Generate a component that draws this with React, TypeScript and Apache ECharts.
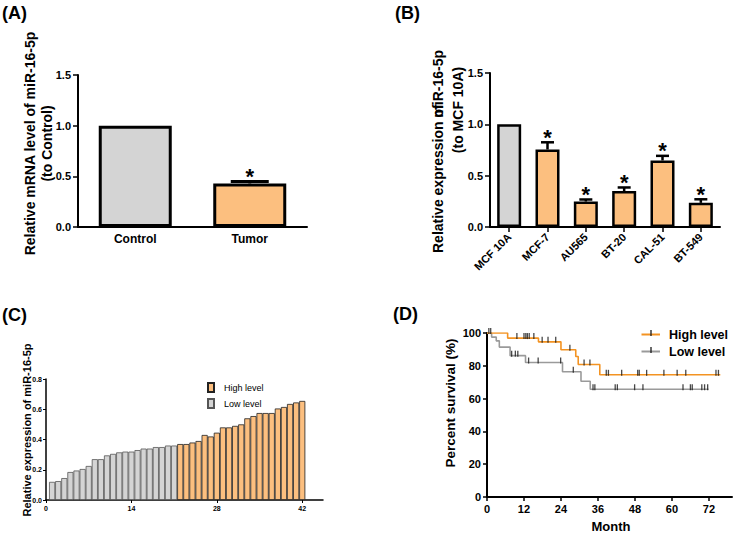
import React, { useEffect, useRef } from "react";
import * as echarts from "echarts";

// ---------- Data ----------
const panelACategories = ["Control", "Tumor"];
const panelAMeans = [1.0, 0.43];
const panelAErrors = [0, 0.02];
const panelAStars = [false, true];

const panelBCategories = ["MCF 10A", "MCF-7", "AU565", "BT-20", "CAL-51", "BT-549"];
const panelBMeans = [1.0, 0.755, 0.248, 0.35, 0.648, 0.235];
const panelBErrors = [0, 0.07, 0.02, 0.035, 0.045, 0.035];
const panelBStars = [false, true, true, true, true, true];

const panelCLowValues = [
  0.12, 0.125, 0.145, 0.185, 0.195, 0.205, 0.225, 0.27, 0.27, 0.295, 0.305,
  0.315, 0.32, 0.32, 0.33, 0.34, 0.34, 0.35, 0.35, 0.36, 0.36,
];
const panelCHighValues = [
  0.37, 0.37, 0.38, 0.39, 0.43, 0.42, 0.445, 0.48, 0.48, 0.49, 0.5, 0.54,
  0.555, 0.575, 0.575, 0.575, 0.605, 0.615, 0.635, 0.645, 0.655,
];
const panelCTicks = [0, 14, 28, 42];

const survivalHighMonths = [0, 6.7, 16.7, 24, 28.8, 29.6, 36.6, 75.7];
const survivalHighPercent = [100, 96.9, 94.6, 89.8, 85.7, 80.8, 74.5, 74.5];
const survivalLowMonths = [0, 1.5, 3, 4, 7.5, 12.5, 24.5, 30.5, 33.5, 71.9];
const survivalLowPercent = [100, 97.5, 95.2, 91.4, 86.2, 82.0, 76.4, 70.6, 65.7, 65.7];
const censorHighMonths = [
  9.7, 12.0, 12.6, 13.1, 13.7, 15.2, 17.9, 19.8, 22.3, 26.9, 31.5, 33.4, 38.7,
  39.4, 43.7, 48.9, 49.4, 51.8, 57.4, 61.7, 64.5, 74.3, 75.1,
];
const censorLowMonths = [
  0.6, 1.2, 8.0, 9.2, 10.0, 13.5, 16.6, 23.9, 28.0, 34.4, 35.0, 41.6, 42.3,
  47.9, 50.6, 63.6, 66.0, 66.6, 69.7, 70.6, 71.6,
];
const monthTicks = [0, 12, 24, 36, 48, 60, 72];

// ---------- Styles ----------
const FONT = 'Arial, "Liberation Sans", Helvetica, sans-serif';
const GRAY = "#d4d4d4";
const ORANGE = "#fcbf7f";
const LINE_ORANGE = "#f39322";
const LINE_GRAY = "#9a9a9a";

function levelAt(months: number[], pct: number[], t: number) {
  let v = pct[0];
  for (let i = 0; i < months.length; i++) {
    if (months[i] <= t) v = pct[i];
  }
  return v;
}

function errorSeries(
  xAxisIndex: number,
  yAxisIndex: number,
  means: number[],
  errs: number[],
  stars: boolean[],
  capW: number,
  lw: number
) {
  return {
    type: "custom",
    xAxisIndex,
    yAxisIndex,
    clip: false,
    z: 10,
    data: means.map((m, i) => [i, m, m + errs[i], stars[i] ? 1 : 0]),
    renderItem: (params: any, api: any) => {
      const idx = api.value(0);
      const base = api.coord([idx, api.value(1)]);
      const top = api.coord([idx, api.value(2)]);
      const children: any[] = [];
      if (api.value(2) > api.value(1)) {
        children.push({
          type: "line",
          shape: { x1: top[0], y1: base[1], x2: top[0], y2: top[1] },
          style: { stroke: "#000", lineWidth: lw },
        });
        children.push({
          type: "line",
          shape: { x1: top[0] - capW / 2, y1: top[1], x2: top[0] + capW / 2, y2: top[1] },
          style: { stroke: "#000", lineWidth: lw },
        });
      }
      if (api.value(3)) {
        children.push({
          type: "text",
          x: top[0],
          y: top[1] - 5,
          style: {
            text: "*",
            fill: "#000",
            fontSize: 22,
            fontWeight: "bold",
            fontFamily: FONT,
            align: "center",
            verticalAlign: "middle",
          },
        });
      }
      return { type: "group", children };
    },
  };
}

function txt(
  text: string,
  x: number,
  y: number,
  size: number,
  opts: any = {}
) {
  return {
    type: "text",
    x,
    y,
    rotation: opts.rotation || 0,
    style: {
      text,
      fill: "#000",
      fontSize: size,
      fontWeight: opts.weight || "bold",
      fontFamily: FONT,
      align: opts.align || "center",
      verticalAlign: opts.valign || "middle",
    },
  };
}

const axisLine = (w: number) => ({ show: true, lineStyle: { color: "#000", width: w } });
const labelStyle = (size: number, extra: any = {}) => ({
  color: "#000",
  fontSize: size,
  fontWeight: "bold",
  fontFamily: FONT,
  ...extra,
});

export default function App() {
  const ref = useRef<HTMLDivElement>(null);

  useEffect(() => {
    if (!ref.current) return;
    const chart = echarts.init(ref.current, null, { renderer: "svg" });

    const R = Math.PI / 2;
    const option: any = {
      animation: false,
      backgroundColor: "#ffffff",
      grid: [
        { left: 78, top: 75, width: 229, height: 152, outerBoundsMode: "none" },
        { left: 490, top: 73, width: 230, height: 154, outerBoundsMode: "none" },
        { left: 46, top: 379, width: 277, height: 121, outerBoundsMode: "none" },
        { left: 487, top: 333, width: 245, height: 164, outerBoundsMode: "none" },
      ],
      xAxis: [
        {
          gridIndex: 0,
          type: "category",
          data: panelACategories,
          axisLine: axisLine(2),
          axisTick: { show: false },
          axisLabel: labelStyle(12, { margin: 6 }),
        },
        {
          gridIndex: 1,
          type: "category",
          data: panelBCategories,
          axisLine: axisLine(2),
          axisTick: { show: true, alignWithLabel: true, length: 5, lineStyle: { color: "#000", width: 1.5 } },
          axisLabel: labelStyle(11, { rotate: 45, margin: 8, interval: 0 }),
        },
        {
          gridIndex: 2,
          type: "value",
          min: 0,
          max: 45.4,
          axisLine: axisLine(1.5),
          splitLine: { show: false },
          axisTick: { show: true, customValues: panelCTicks, length: 3, lineStyle: { color: "#000", width: 1 } },
          axisLabel: labelStyle(7, { customValues: panelCTicks, margin: 5 }),
        },
        {
          gridIndex: 3,
          type: "value",
          min: 0,
          max: 79.5,
          axisLine: axisLine(2),
          splitLine: { show: false },
          axisTick: { show: true, customValues: monthTicks, length: 4, lineStyle: { color: "#000", width: 1.5 } },
          axisLabel: labelStyle(11, { customValues: monthTicks, margin: 6 }),
        },
      ],
      yAxis: [
        {
          gridIndex: 0,
          type: "value",
          min: 0,
          max: 1.5,
          interval: 0.5,
          axisLine: axisLine(2),
          splitLine: { show: false },
          axisTick: { show: true, length: 5, lineStyle: { color: "#000", width: 1.5 } },
          axisLabel: labelStyle(11, { margin: 7, formatter: (v: number) => v.toFixed(1) }),
        },
        {
          gridIndex: 1,
          type: "value",
          min: 0,
          max: 1.5,
          interval: 0.5,
          axisLine: axisLine(2),
          splitLine: { show: false },
          axisTick: { show: true, length: 5, lineStyle: { color: "#000", width: 1.5 } },
          axisLabel: labelStyle(11, { margin: 7, formatter: (v: number) => v.toFixed(1) }),
        },
        {
          gridIndex: 2,
          type: "value",
          min: 0,
          max: 0.8,
          interval: 0.2,
          axisLine: axisLine(1.5),
          splitLine: { show: false },
          axisTick: { show: true, length: 3, lineStyle: { color: "#000", width: 1 } },
          axisLabel: labelStyle(7, { margin: 4, formatter: (v: number) => v.toFixed(1) }),
        },
        {
          gridIndex: 3,
          type: "value",
          min: 0,
          max: 100,
          interval: 20,
          axisLine: axisLine(2),
          splitLine: { show: false },
          axisTick: { show: true, length: 4, lineStyle: { color: "#000", width: 1.5 } },
          axisLabel: labelStyle(11, { margin: 6 }),
        },
      ],
      legend: {
        data: ["High level", "Low level"],
        orient: "vertical",
        left: 207,
        top: 382,
        padding: 0,
        itemWidth: 6,
        itemHeight: 9,
        itemGap: 5,
        icon: "rect",
        selectedMode: false,
        textStyle: { fontSize: 9, fontFamily: FONT, color: "#000", padding: [0, 0, 0, 5] },
      },
      series: [
        {
          type: "bar",
          xAxisIndex: 0,
          yAxisIndex: 0,
          barWidth: 73,
          data: panelAMeans.map((v, i) => ({
            value: v,
            itemStyle: { color: i === 0 ? GRAY : ORANGE },
          })),
          itemStyle: { borderColor: "#000", borderWidth: 3 },
        },
        errorSeries(0, 0, panelAMeans, panelAErrors, panelAStars, 38, 3),
        {
          type: "bar",
          xAxisIndex: 1,
          yAxisIndex: 1,
          barWidth: 24,
          data: panelBMeans.map((v, i) => ({
            value: v,
            itemStyle: { color: i === 0 ? GRAY : ORANGE },
          })),
          itemStyle: { borderColor: "#000", borderWidth: 2.5 },
        },
        errorSeries(1, 1, panelBMeans, panelBErrors, panelBStars, 13, 2.5),
        {
          name: "Low level",
          type: "bar",
          xAxisIndex: 2,
          yAxisIndex: 2,
          barWidth: 6.1,
          barGap: "-100%",
          data: panelCLowValues.map((v, i) => [i + 1, v]),
          itemStyle: { color: GRAY, borderColor: "#555", borderWidth: 0.8 },
        },
        {
          name: "High level",
          type: "bar",
          xAxisIndex: 2,
          yAxisIndex: 2,
          barWidth: 6.1,
          barGap: "-100%",
          data: panelCHighValues.map((v, i) => [panelCLowValues.length + i + 1, v]),
          itemStyle: { color: ORANGE, borderColor: "#222", borderWidth: 0.8 },
        },
        {
          type: "line",
          xAxisIndex: 3,
          yAxisIndex: 3,
          step: "end",
          symbol: "none",
          data: survivalHighMonths.map((m, i) => [m, survivalHighPercent[i]]),
          lineStyle: { color: LINE_ORANGE, width: 1.6 },
          z: 3,
        },
        {
          type: "line",
          xAxisIndex: 3,
          yAxisIndex: 3,
          step: "end",
          symbol: "none",
          data: survivalLowMonths.map((m, i) => [m, survivalLowPercent[i]]),
          lineStyle: { color: LINE_GRAY, width: 1.6 },
          z: 2,
        },
        {
          type: "scatter",
          xAxisIndex: 3,
          yAxisIndex: 3,
          symbol: "rect",
          symbolSize: [1.3, 6],
          symbolOffset: [0, -2],
          itemStyle: { color: "#1a1a1a" },
          data: censorHighMonths.map((t) => [t, levelAt(survivalHighMonths, survivalHighPercent, t)]),
          z: 5,
        },
        {
          type: "scatter",
          xAxisIndex: 3,
          yAxisIndex: 3,
          symbol: "rect",
          symbolSize: [1.3, 6],
          symbolOffset: [0, -2],
          itemStyle: { color: "#1a1a1a" },
          data: censorLowMonths.map((t) => [t, levelAt(survivalLowMonths, survivalLowPercent, t)]),
          z: 5,
        },
      ],
      graphic: [
        txt("(A)", 2, 13, 18, { align: "left" }),
        txt("(B)", 395, 13, 18, { align: "left" }),
        txt("(C)", 2, 315, 18, { align: "left" }),
        txt("(D)", 393, 314, 18, { align: "left" }),
        txt("Relative mRNA level of miR-16-5p", 30, 143.5, 14, { rotation: R }),
        txt("(to Control)", 47, 143.5, 14, { rotation: R }),
        txt("Relative expression of", 438, 253, 14, { rotation: R, align: "left" }),
        txt("miR-16-5p", 438, 50, 14, { rotation: R, align: "right" }),
        txt("(to MCF 10A)", 458, 110, 14, { rotation: R }),
        txt("Relative expression of miR-16-5p", 27, 430, 11, { rotation: R }),
        txt("Percent survival (%)", 450, 403, 13.5, { rotation: R }),
        txt("Month", 611, 526, 13),
        {
          type: "line",
          shape: { x1: 641.5, y1: 334.5, x2: 660, y2: 334.5 },
          style: { stroke: LINE_ORANGE, lineWidth: 2 },
        },
        {
          type: "line",
          shape: { x1: 651, y1: 330, x2: 651, y2: 336 },
          style: { stroke: "#1a1a1a", lineWidth: 1.3 },
        },
        txt("High level", 669, 334.5, 12.5, { align: "left" }),
        {
          type: "line",
          shape: { x1: 641.5, y1: 351.5, x2: 660, y2: 351.5 },
          style: { stroke: LINE_GRAY, lineWidth: 2 },
        },
        {
          type: "line",
          shape: { x1: 651, y1: 347, x2: 651, y2: 353 },
          style: { stroke: "#1a1a1a", lineWidth: 1.3 },
        },
        txt("Low level", 669, 351.5, 12.5, { align: "left" }),
      ],
    };

    chart.setOption(option);
    return () => chart.dispose();
  }, []);

  return (
    <div
      ref={ref}
      style={{ position: "fixed", left: 0, top: 0, width: 735, height: 534, background: "#fff" }}
    />
  );
}
